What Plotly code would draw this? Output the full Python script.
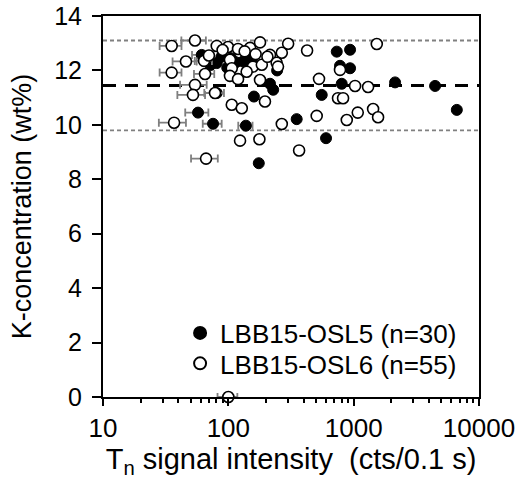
import plotly.graph_objects as go

# LBB15-OSL5 (filled)
osl5_x = [61.3, 80.8, 131, 154, 215, 228, 80.8, 160, 57.3, 75.5, 138, 351, 175,
          733, 936, 778, 936, 803, 556, 602, 2140, 4463, 6653,
          66, 72, 88, 105, 115, 245, 98]
osl5_y = [12.57, 12.27, 12.33, 12.42, 11.51, 11.29, 11.17, 11.04, 10.45, 10.04, 9.97, 10.21, 8.59,
          12.69, 12.76, 12.17, 12.08, 11.51, 11.10, 9.51, 11.56, 11.43, 10.55,
          12.45, 12.2, 12.5, 12.45, 12.3, 12.0, 12.1]
osl5_err = [10, 0, 0, 0, 0, 0, 0, 0, 12, 13, 18, 0, 0,
            0, 0, 0, 0, 0, 0, 0, 0, 0, 0,
            0, 0, 0, 0, 0, 0, 0]

# LBB15-OSL6 (open)
osl6_x = [35.3, 54.2, 80.8, 99.5, 119.5, 149, 179, 215, 267, 300, 243, 249, 425,
          45.9, 64, 35.3, 65.2, 103, 106.5, 103, 119.5, 157, 185, 179,
          54.2, 52.2, 78.3, 106.5, 128, 196, 36.9, 124, 177, 66.4, 267, 367,
          1529, 778, 529, 1026, 1303, 750, 823, 507, 881, 1078, 1429, 1566,
          100, 90, 135, 165, 70, 140, 205]
osl6_y = [12.90, 13.10, 12.90, 12.86, 12.79, 12.83, 13.03, 12.57, 12.65, 12.98, 12.28, 12.14, 12.73,
          12.33, 12.35, 11.92, 11.87, 12.39, 12.08, 11.80, 11.68, 12.14, 12.21, 11.65,
          11.47, 11.10, 11.17, 10.74, 10.61, 10.86, 10.08, 9.42, 9.47, 8.76, 10.03, 9.06,
          12.97, 12.02, 11.69, 11.43, 11.39, 10.98, 10.98, 10.33, 10.18, 10.45, 10.58, 10.28,
          0.0, 12.75, 12.7, 12.6, 12.55, 11.95, 12.5]
osl6_err = [7, 12, 0, 0, 0, 0, 0, 0, 0, 0, 0, 0, 0,
            10, 10, 7, 12, 0, 0, 0, 0, 0, 0, 0,
            13, 13, 14, 0, 0, 0, 9, 0, 0, 16, 0, 0,
            0, 0, 0, 0, 0, 0, 0, 0, 0, 0, 0, 0,
            18, 0, 0, 0, 0, 0, 0]

mean_k = 11.45
band_hi = 13.1
band_lo = 9.8

x_tickvals = [10, 100, 1000, 10000]
x_ticktext = ["10", "100", "1000", "10000"]
x_minor_tickvals = [m * d for d in (10, 100, 1000) for m in range(2, 10)]
y_tickvals = [0, 2, 4, 6, 8, 10, 12, 14]

FONT = "Liberation Sans, Arial, sans-serif"

fig = go.Figure()
fig.add_trace(go.Scatter(
    x=osl5_x, y=osl5_y, mode="markers", name="LBB15-OSL5 (n=30)",
    marker=dict(symbol="circle", size=11, color="black", line=dict(color="black", width=1)),
    error_x=dict(type="data", array=osl5_err, color="#7f7f7f", thickness=1.8, width=4),
    legend="legend",
))
fig.add_trace(go.Scatter(
    x=osl6_x, y=osl6_y, mode="markers", name="LBB15-OSL6 (n=55)",
    marker=dict(symbol="circle", size=11, color="white", line=dict(color="black", width=1.6)),
    error_x=dict(type="data", array=osl6_err, color="#7f7f7f", thickness=1.8, width=4),
    legend="legend2", cliponaxis=False,
))

for yv, col, w, dash in [(band_hi, "#808080", 1.8, "4px,3px"),
                         (band_lo, "#808080", 1.8, "4px,3px"),
                         (mean_k, "black", 3, "13px,9px")]:
    fig.add_shape(type="line", xref="x domain", yref="y", x0=0, x1=1, y0=yv, y1=yv,
                  line=dict(color=col, width=w, dash=dash), layer="below")

fig.update_layout(
    width=518, height=488,
    margin=dict(l=103, r=39, t=16, b=91),
    paper_bgcolor="white", plot_bgcolor="white",
    font=dict(family=FONT, size=25, color="black"),
    showlegend=True,
    legend=dict(x=0.205, y=0.168, xanchor="left", yanchor="middle", bgcolor="rgba(0,0,0,0)",
                font=dict(size=26), itemsizing="constant", itemwidth=30),
    legend2=dict(x=0.205, y=0.088, xanchor="left", yanchor="middle", bgcolor="rgba(0,0,0,0)",
                 font=dict(size=26), itemsizing="constant", itemwidth=30),
    xaxis=dict(type="log", range=[1, 4], tickvals=x_tickvals, ticktext=x_ticktext,
               showline=True, linecolor="black", linewidth=2, mirror=True,
               ticks="outside", ticklen=7, tickwidth=1.5, tickcolor="black",
               minor=dict(tickvals=x_minor_tickvals, ticks="outside", ticklen=4, tickwidth=1.5,
                          tickcolor="black", showgrid=False),
               showgrid=False, zeroline=False, automargin=False,
               title=dict(text="T<sub>n</sub> signal intensity  (cts/0.1 s)", font=dict(size=29), standoff=2),
               tickfont=dict(size=26)),
    yaxis=dict(range=[0, 14], tickvals=y_tickvals,
               showline=True, linecolor="black", linewidth=2, mirror=True,
               ticks="outside", ticklen=9, tickwidth=1.5, tickcolor="black",
               ticklabelstandoff=5,
               showgrid=False, zeroline=False, automargin=False,
               title=dict(text="K-concentration (wt%)", font=dict(size=27)),
               tickfont=dict(size=25)),
)

fig.write_html("out.html")
